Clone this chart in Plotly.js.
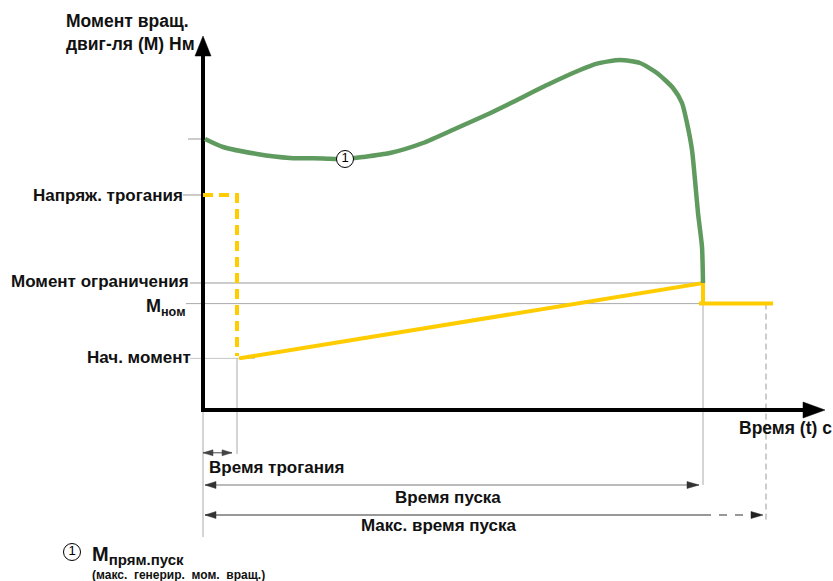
<!DOCTYPE html>
<html><head><meta charset="utf-8">
<script src="https://cdn.plot.ly/plotly-3.0.1.min.js"></script>
<style>html,body{margin:0;padding:0;background:#fff}#chart{width:833px;height:581px}</style>
</head><body><div id="chart"></div>
<script>
// Time t in % of start time, torque M in relative units
const curveT = [0.4, 4, 10.8, 17.4, 24, 28.4, 32, 37.4, 44, 50.8, 57.4, 62, 68.8, 75.4, 78.8, 83.4, 87.4, 90.8, 94, 95.8, 96.8, 97.8, 98.4, 99, 99.8, 100];
const curveM = [67.75, 65.75, 64, 63, 62.9, 62.75, 63.25, 64.25, 66.75, 70.5, 74.2, 77, 81.25, 85, 86.6, 87.5, 86.75, 84.25, 80.5, 76.75, 71.75, 65, 57.5, 49.25, 40.75, 31.75];

const tBreak = 6.8;      // breakaway time
const tStart = 100;      // start time
const tMax = 112.6;      // max start time
const tEnd = 114;        // end of nominal segment
const M_break = 53.75;   // breakaway voltage level
const M_limit = 31.75;   // limit torque
const M_nom = 26.6;      // nominal torque
const M_init = 12.9;     // initial torque
const M_curve0 = 67.75;  // direct-start torque at t=0

const labelBreak = "Напряж. трогания";
const labelLimit = "Момент ограничения";
const labelNom = "М<sub>ном</sub>";
const labelInit = "Нач. момент";
const yTitle = "Момент вращ.<br>двиг-ля (М) Нм";
const xTitle = "Время (t) с";
const dimBreak = "Время трогания";
const dimStart = "Время пуска";
const dimMax = "Макс. время пуска";
const legendMain = "М<sub><span style=\"font-size:15px\">прям.пуск</span></sub>";
const legendSub = "(макс.&nbsp; генерир.&nbsp; мом.&nbsp; вращ.)";

// pixel scale of the axes (px per unit)
const SX = 5, SY = 4;
const FONT = "Arial, 'Liberation Sans', sans-serif";

function tri(tipT, tipM, dir, len, half) {
  let p;
  if (dir === 'up') {
    const b = tipM - len / SY;
    p = [[tipT, tipM], [tipT - half / SX, b], [tipT + half / SX, b]];
  } else if (dir === 'right') {
    const b = tipT - len / SX;
    p = [[tipT, tipM], [b, tipM - half / SY], [b, tipM + half / SY]];
  } else {
    const b = tipT + len / SX;
    p = [[tipT, tipM], [b, tipM - half / SY], [b, tipM + half / SY]];
  }
  return 'M' + p.map(q => q[0] + ',' + q[1]).join(' L') + ' Z';
}
function line(x0, y0, x1, y1, color, width, dash) {
  return {type: 'line', xref: 'x', yref: 'y', x0: x0, y0: y0, x1: x1, y1: y1,
          line: {color: color, width: width, dash: dash || 'solid'}, layer: 'below'};
}
function head(path, color) {
  return {type: 'path', xref: 'x', yref: 'y', path: path, fillcolor: color,
          line: {color: color, width: 0.5}, layer: 'above'};
}

const rowBreak = -10.7, rowStart = -18.75, rowMax = -26.25;
const yAxisTop = 93.5, xAxisEnd = 124.4;

const shapes = [
  // guide lines
  line(-3, M_curve0, 0, M_curve0, '#999', 1),
  line(-4, M_break, 0, M_break, '#999', 1),
  line(-2.6, M_limit, tStart, M_limit, '#999', 1),
  line(-3.4, M_nom, tStart, M_nom, '#aaa', 1),
  line(-2.6, M_init, 10.4, M_init, '#c8c8c8', 1),
  line(tBreak, M_init, tBreak, rowBreak - 0.3, '#aaa', 1),
  line(0, 0, 0, -31.75, '#aaa', 1),
  line(tStart, M_nom, tStart, rowStart, '#aaa', 1),
  line(tMax, M_nom, tMax, -28.25, '#999', 1, '6px,4px'),
  // axes
  line(0, -0.5, 0, yAxisTop - 18 / SY, '#000', 4),
  line(-0.4, 0, xAxisEnd - 20 / SX, 0, '#000', 4),
  head(tri(0, yAxisTop, 'up', 20, 8), '#000'),
  head(tri(xAxisEnd, 0, 'right', 22, 8), '#000'),
  // dimension: breakaway time
  line(0, rowBreak, 5.8, rowBreak, '#444', 1),
  head(tri(0, rowBreak, 'left', 10, 3), '#444'),
  head(tri(5.8, rowBreak, 'right', 10, 3), '#444'),
  // dimension: start time
  line(0.4, rowStart, 99.2, rowStart, '#777', 1),
  head(tri(0.4, rowStart, 'left', 11, 3.5), '#333'),
  head(tri(99.2, rowStart, 'right', 12, 3.5), '#333'),
  // dimension: max start time
  line(0.4, rowMax, tStart, rowMax, '#333', 1),
  line(tStart, rowMax, 110, rowMax, '#333', 1, '8px,8px'),
  head(tri(0.4, rowMax, 'left', 11, 3.5), '#333'),
  head(tri(112, rowMax, 'right', 12, 3.5), '#222')
];

const traces = [
  {x: [0, tBreak, tBreak], y: [M_break, M_break, M_init + 0.6], mode: 'lines',
   line: {color: '#ffcc00', width: 4, dash: '10px,6px'}, hoverinfo: 'skip'},
  {x: [tBreak + 0.4, tStart, tStart, 99.2, tEnd], y: [M_init, M_limit, M_nom, M_nom, M_nom], mode: 'lines',
   line: {color: '#ffcc00', width: 4}, hoverinfo: 'skip'},
  {x: curveT, y: curveM, mode: 'lines', line: {color: '#5f9a5f', width: 4.5, shape: 'spline', smoothing: 0.6},
   hoverinfo: 'skip'},
  {x: [curveT[5], -26.2], y: [curveM[5], -35.5], mode: 'markers+text', text: ['1', '1'],
   textposition: 'middle center', textfont: {family: FONT, size: 13, color: '#000'},
   marker: {symbol: 'circle', size: 17, color: '#fff', line: {color: '#000', width: 1}}, hoverinfo: 'skip'}
];

function ann(text, x, y, xanchor, size) {
  return {text: '<b>' + text + '</b>', x: x, y: y, xref: 'x', yref: 'y', xanchor: xanchor, yanchor: 'middle',
          showarrow: false, font: {family: FONT, size: size || 17, color: '#111'}, align: 'left', borderpad: 0};
}

const annotations = [
  ann(yTitle, -27.6, 94.5, 'left', 17.5),
  ann(labelBreak, -3.8, M_break, 'right'),
  ann(labelLimit, -2.6, M_limit + 0.4, 'right'),
  ann(labelNom, -3.4, M_nom - 1, 'right', 18),
  ann(labelInit, -2.2, M_init + 0.3, 'right'),
  ann(xTitle, 116.4, -4.5, 'center', 17.5),
  ann(dimBreak, 1, -14.4, 'left'),
  ann(dimStart, 49, -21.9, 'center'),
  ann(dimMax, 47.1, -28.75, 'center'),
  ann(legendMain, -22.4, -36.3, 'left', 20),
  ann(legendSub, -22.4, -41.3, 'left', 12)
];

const layout = {
  width: 833, height: 581,
  margin: {l: 0, r: 0, t: 0, b: 0},
  paper_bgcolor: '#fff', plot_bgcolor: '#fff',
  showlegend: false,
  xaxis: {range: [-40.6, 126], visible: false, fixedrange: true},
  yaxis: {range: [-42.75, 102.5], visible: false, fixedrange: true},
  shapes: shapes,
  annotations: annotations,
  font: {family: FONT}
};

Plotly.newPlot('chart', traces, layout, {displayModeBar: false, staticPlot: true});
</script>
</body></html>
